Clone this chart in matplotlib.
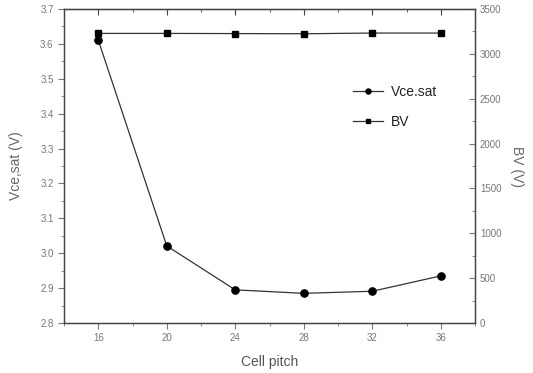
import matplotlib.pyplot as plt
from matplotlib.ticker import MultipleLocator

plt.rcParams['font.family'] = ['Liberation Sans', 'DejaVu Sans']

# Data
cell_pitch = [16, 20, 24, 28, 32, 36]
vce_sat = [3.611, 3.021, 2.895, 2.885, 2.891, 2.935]
bv = [3228, 3228, 3226, 3224, 3232, 3232]

fig = plt.figure(figsize=(5.33, 3.73), dpi=100)
ax = fig.add_axes([64 / 533, 50 / 373, 411 / 533, 314 / 373])
ax2 = ax.twinx()

l1, = ax.plot(cell_pitch, vce_sat, color='#333333', lw=0.9, marker='o',
              ms=5.2, mfc='black', mec='black', label='Vce.sat')
l2, = ax2.plot(cell_pitch, bv, color='#333333', lw=0.9, marker='s',
               ms=4.8, mfc='black', mec='black', label='BV')

ax.set_xlim(14, 38)
ax.set_ylim(2.8, 3.7)
ax2.set_ylim(0, 3500)

ax.xaxis.set_major_locator(MultipleLocator(4))
ax.xaxis.set_minor_locator(MultipleLocator(2))
ax.yaxis.set_major_locator(MultipleLocator(0.1))
ax.yaxis.set_minor_locator(MultipleLocator(0.05))
ax2.yaxis.set_major_locator(MultipleLocator(500))
ax2.yaxis.set_minor_locator(MultipleLocator(250))

gray = '#777777'
ax.tick_params(axis='x', which='both', direction='out', labelsize=7, colors=gray)
ax.tick_params(axis='y', which='both', direction='out', labelsize=7, colors=gray)
ax2.tick_params(axis='y', which='both', direction='in', labelsize=7, colors=gray)
for a in (ax, ax2):
    a.tick_params(which='major', length=4)
    a.tick_params(which='minor', length=2)

# top axis: ticks pointing into the plot
sec = ax.secondary_xaxis('top')
sec.xaxis.set_major_locator(MultipleLocator(4))
sec.xaxis.set_minor_locator(MultipleLocator(2))
sec.tick_params(which='both', direction='in', labeltop=False, colors='#444444')
sec.tick_params(which='major', length=4)
sec.tick_params(which='minor', length=2)
sec.spines['top'].set_color('#444444')

for a in (ax, ax2):
    for s in a.spines.values():
        s.set_color('#444444')
        s.set_linewidth(0.9)
ax.yaxis.set_major_formatter(plt.FormatStrFormatter('%.1f'))

ax.set_xlabel('Cell pitch', fontsize=10, color='#555555', labelpad=8)
ax.set_ylabel('Vce,sat (V)', fontsize=10, color='#666666', labelpad=12)
ax2.set_ylabel('BV (V)', fontsize=10, color='#666666', rotation=270, labelpad=16)

ax.legend([l1, l2], ['Vce.sat', 'BV'], loc='upper left', bbox_to_anchor=(0.689, 0.777),
          frameon=False, fontsize=10, handlelength=2.16, labelspacing=1.16,
          handletextpad=0.58, markerscale=0.7, borderaxespad=0, labelcolor='#222222')

fig.savefig('out.png', dpi=100)
